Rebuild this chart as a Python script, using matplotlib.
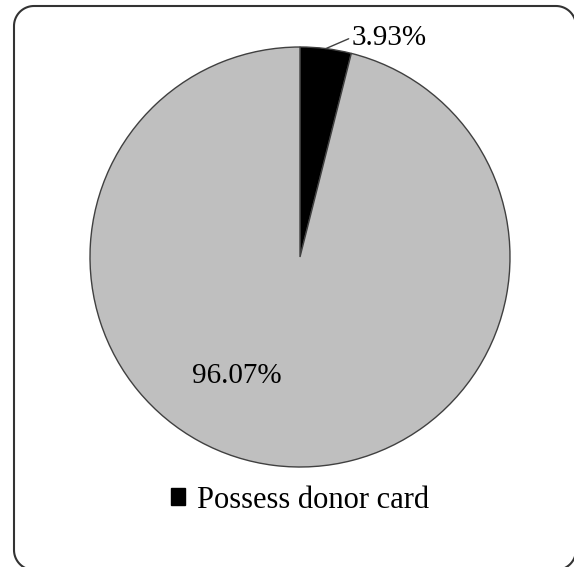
import matplotlib
matplotlib.use("Agg")
import matplotlib.pyplot as plt
from matplotlib.patches import Patch
from matplotlib.lines import Line2D
from matplotlib.transforms import IdentityTransform
import numpy as np

labels = ["Possess donor card", "Do not possess donor card"]
values = [3.93, 96.07]
colors = ["#000000", "#bfbfbf"]

plt.rcParams['font.family'] = ['Liberation Serif', 'DejaVu Serif']

W, H = 574, 567
fig = plt.figure(figsize=(W / 100, H / 100), dpi=100)


def rounded_rect(x0, y0, x1, y1, rad, n=20):
    # corners of a rounded rectangle, pixel coords with y up
    xs, ys = [], []
    for (cx, cy, a0) in [(x1 - rad, y1 - rad, 0), (x0 + rad, y1 - rad, 90),
                         (x0 + rad, y0 + rad, 180), (x1 - rad, y0 + rad, 270)]:
        t = np.deg2rad(np.linspace(a0, a0 + 90, n))
        xs.extend(cx + rad * np.cos(t))
        ys.extend(cy + rad * np.sin(t))
    xs.append(xs[0])
    ys.append(ys[0])
    return xs, ys


# chart border, runs off the right and bottom edge
bx, by = rounded_rect(14, -3, 576, H - 6, 20)
fig.add_artist(Line2D(bx, by, transform=IdentityTransform(),
                      color="#333333", lw=1.5, zorder=5))

# pie axes: centre (300, 257) px, radius 210 px
cx, cy, r = 300, 257, 210
ax = fig.add_axes([(cx - r) / W, (H - cy - r) / H, 2 * r / W, 2 * r / H])
wedges, _ = ax.pie(values, colors=colors, startangle=90, counterclock=False,
                   wedgeprops=dict(edgecolor="#404040", linewidth=1))
ax.set_xlim(-1, 1)
ax.set_ylim(-1, 1)
ax.axis('off')

# label for small slice with leader line
w0 = wedges[0]
mid = np.deg2rad((w0.theta1 + w0.theta2) / 2)
ax.annotate(f"{values[0]:.2f}%", xy=(np.cos(mid), np.sin(mid)),
            xytext=(0.245, 1.045), fontsize=21, va='center', ha='left',
            arrowprops=dict(arrowstyle='-', color='#404040', lw=1,
                            shrinkA=0, shrinkB=0, relpos=(0, 0.5)),
            annotation_clip=False)

# label for large slice
ang = np.deg2rad(242)
ax.text(0.64 * np.cos(ang), 0.64 * np.sin(ang), f"{values[1]:.2f}%",
        fontsize=21, ha='center', va='center')

fig.legend(handles=[Patch(facecolor=colors[0], edgecolor=colors[0], label=labels[0])],
           loc='center', bbox_to_anchor=(300 / W, 1 - 500 / H), frameon=False,
           fontsize=22, handlelength=0.45, handleheight=0.45, handletextpad=0.4)

fig.savefig("out.png", dpi=100)
